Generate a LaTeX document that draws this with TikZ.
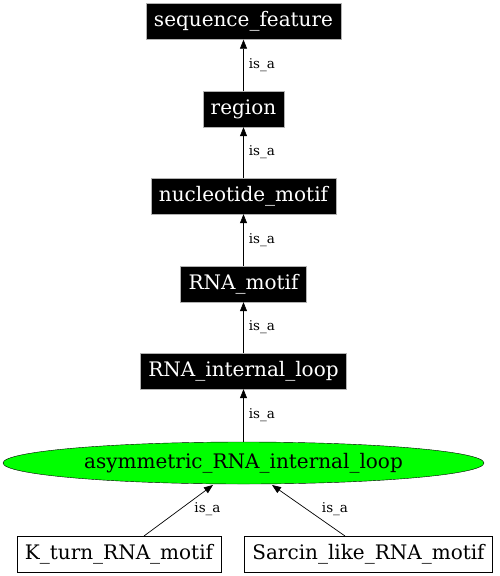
\documentclass[tikz,border=0pt]{standalone}
\usepackage{fontspec}
\setmainfont{DejaVu Serif}
\usetikzlibrary{arrows.meta,shapes.geometric}
\tikzset{
  x=1pt,y=1pt,
  nfont/.style={font=\fontsize{20}{22}\selectfont},
  dark/.style={rectangle,fill=black,draw=gray!60,text=white,nfont,minimum height=36pt,inner xsep=8pt,inner ysep=0pt},
  leaf/.style={rectangle,fill=white,draw=black,text=black,nfont,minimum height=36pt,inner xsep=8pt,inner ysep=0pt},
  term/.style={ellipse,fill=green,draw=black,nfont,minimum width=481pt,minimum height=42pt,inner sep=0pt},
  isa/.style={-{Triangle[length=9pt,width=7pt]},draw=black,line width=0.7pt},
  lbl/.style={font=\fontsize{13.5}{15}\selectfont,inner sep=0pt}
}
\begin{document}
\begin{tikzpicture}
\useasboundingbox (0,0) rectangle (499,-576);
\node[dark] (sf) at (243.5,-21.5) {sequence\_feature};
\node[dark] (rg) at (243.5,-109) {region};
\node[dark] (nm) at (243.5,-196) {nucleotide\_motif};
\node[dark] (rm) at (243.5,-284) {RNA\_motif};
\node[dark] (ril) at (243.5,-371) {RNA\_internal\_loop};
\node[term] (aril) at (243.5,-463) {asymmetric\_RNA\_internal\_loop};
\node[leaf] (kt) at (119,-554) {K\_turn\_RNA\_motif};
\node[leaf] (sl) at (368.5,-554) {Sarcin\_like\_RNA\_motif};
\draw[isa] (rg) -- node[lbl,right,xshift=5pt] {is\_a} (sf);
\draw[isa] (nm) -- node[lbl,right,xshift=5pt] {is\_a} (rg);
\draw[isa] (rm) -- node[lbl,right,xshift=5pt] {is\_a} (nm);
\draw[isa] (ril) -- node[lbl,right,xshift=5pt] {is\_a} (rm);
\draw[isa] (aril) -- node[lbl,right,xshift=5pt] {is\_a} (ril);
\coordinate (ktt) at (144,-536);
\coordinate (slt) at (345,-536);
\coordinate (kth) at (213,-485);
\coordinate (slh) at (272,-485);
\draw[isa] (ktt) -- (kth);
\draw[isa] (slt) -- (slh);
\node[lbl] (l1) at (207.5,-509) {is\_a};
\node[lbl] (l2) at (335,-509) {is\_a};
\end{tikzpicture}
\end{document}
